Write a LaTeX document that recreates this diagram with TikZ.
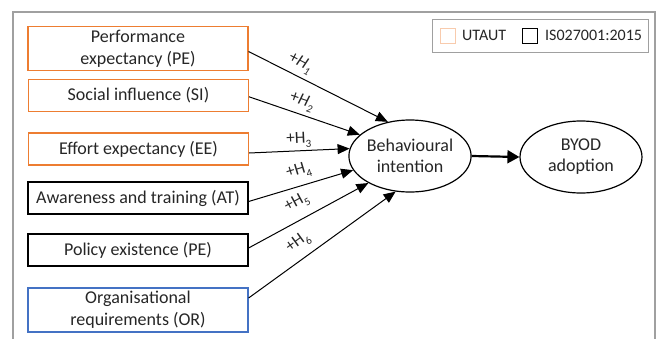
\documentclass[tikz,border=0pt]{standalone}
\usepackage{fontspec}
\setmainfont{Carlito}
\usetikzlibrary{arrows.meta,shapes.geometric,calc}
\definecolor{uorange}{HTML}{ED7D31}
\definecolor{lorange}{HTML}{F8CBAD}
\definecolor{oblue}{HTML}{4472C4}
\definecolor{txt}{HTML}{262626}
\definecolor{framegray}{HTML}{A0A0A0}
\newcommand{\hsub}[1]{\raisebox{-0.6ex}{\fontsize{11}{11}\selectfont #1}}
\begin{document}
\begin{tikzpicture}[x=1pt,y=-1pt,
  box/.style={draw, line width=1.2pt, minimum width=220pt, minimum height=32pt, inner sep=0pt, align=center, font=\fontsize{18}{22}\selectfont, text=txt},
  tall/.style={minimum height=44pt},
  ell/.style={ellipse, draw, line width=1.2pt, minimum width=122pt, minimum height=72pt, inner sep=0pt, align=center, font=\fontsize{18}{21}\selectfont, text=txt},
  hyp/.style={-{Triangle[length=12pt,width=10pt]}, line width=1pt},
  lab/.style={sloped, inner sep=1pt, font=\fontsize{17}{17}\selectfont, text=txt},
  legtext/.style={anchor=west, inner sep=0pt, font=\fontsize{16}{16}\selectfont, text=txt},
]
\useasboundingbox (0,0) rectangle (657,338);
% outer frame
\draw[framegray, line width=1.4pt] (13,340) |- (655,12) -- (655,340);

% boxes
\node[box, tall, draw=uorange] (pe) at (138,48.5) {Performance\\expectancy (PE)};
\node[box, draw=uorange] (si) at (138.5,95.3) {Social influence (SI)};
\node[box, draw=uorange] (ee) at (138.5,149) {Effort expectancy (EE)};
\node[box, draw=black] (at) at (138,198) {Awareness and training (AT)};
\node[box, draw=black] (po) at (138,250) {Policy existence (PE)};
\node[box, tall, draw=oblue] (or) at (138,310) {Organisational\\requirements (OR)};

% ellipses
\node[ell] (bi) at (410,156) {Behavioural\\intention};
\node[ell] (by) at (581,157) {BYOD\\adoption};

% hypotheses
\draw[hyp] ([yshift=-3pt]pe.east) -- node[lab, above=3pt, pos=0.33] {+\textit{H}\hsub{\textit{1}}} (bi.123);
\draw[hyp] ([yshift=-1.5pt]si.east) -- node[lab, above=3pt, pos=0.44] {+\textit{H}\hsub{\textit{2}}} (bi.157);
\draw[hyp] ([yshift=-4pt]ee.east) -- node[lab, above=1pt, pos=0.5] {+H\hsub{3}} (bi.173);
\draw[hyp] ([yshift=-3.5pt]at.east) -- node[lab, above=5pt, pos=0.52] {+H\hsub{4}} (bi.194);
\draw[hyp] ([yshift=2pt]po.east) -- node[lab, above=7pt, pos=0.47] {+H\hsub{5}} (bi.213);
\draw[hyp] ([yshift=12pt]or.east) -- node[lab, above=6pt, pos=0.4] {+H\hsub{6}} (bi.248);

\draw[-{Triangle[length=12pt,width=13pt]}, line width=2.2pt] (bi.east) -- (by.west);

% legend
\node[draw=framegray, line width=1pt, minimum width=216pt, minimum height=33pt, inner sep=0pt] (leg) at (540,35.5) {};
\node[draw=lorange, line width=1pt, minimum size=15pt, inner sep=0pt] (sqa) at (448,35.5) {};
\node[legtext] (la) at (462,35.5) {UTAUT};
\node[draw=black, line width=1pt, minimum size=15pt, inner sep=0pt] (sqb) at (529.5,35.5) {};
\node[legtext] (lb) at (545,35.5) {IS027001:2015};
\end{tikzpicture}
\end{document}
